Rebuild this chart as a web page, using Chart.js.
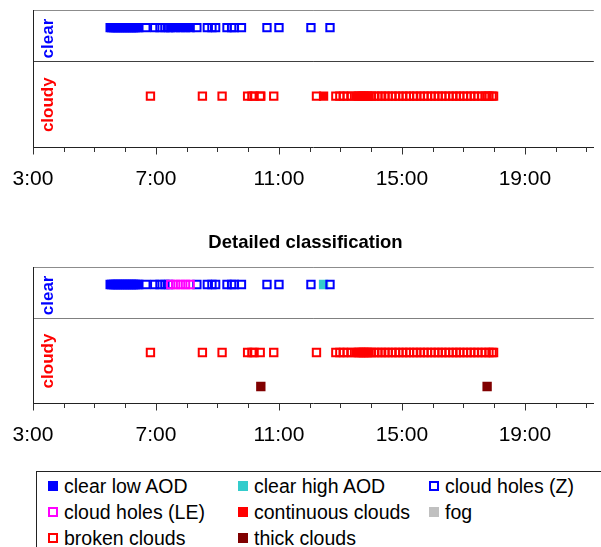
<!DOCTYPE html>
<html><head><meta charset="utf-8">
<script src="https://cdn.jsdelivr.net/npm/chart.js@4.4.1/dist/chart.umd.min.js"></script>
<style>
html,body{margin:0;padding:0;background:#fff;overflow:hidden;width:601px;height:547px;}
canvas{position:absolute;left:0;}
#c1{top:0;}
#c2{top:200px;}
#legend{position:absolute;left:36px;top:471px;width:620px;height:110px;border:1px solid #222;box-sizing:content-box;
 font-family:"Liberation Sans",Arial,sans-serif;font-size:19.5px;color:#000;}
.item{position:absolute;display:flex;align-items:center;white-space:nowrap;height:24px;line-height:24px;}
.sw{width:10px;height:10px;box-sizing:border-box;margin-right:6px;flex:none;}
</style></head><body>
<canvas id="c1" width="601" height="200"></canvas>
<canvas id="c2" width="601" height="255"></canvas>
<div id="legend"></div>
<script>
// ---------- data (hours of day) ----------
const categories = ['clear', 'cloudy'];
const chartTitle = 'Detailed classification';
const tickHours = [3,4,5,6,7,8,9,10,11,12,13,14,15,16,17,18,19,20,21];
const tickLabelHours = [3,7,11,15,19];

const clearLowAOD  = [5.51,5.56,5.62,5.68,5.74,5.80,5.85,5.91,5.97,6.03,6.09,6.14,6.20,6.26,6.32,6.38,6.44];
const clearHighAOD = [12.45];
const cloudHolesZ  = [6.67,6.96,7.13,7.29,7.41,8.33,8.67,8.82,8.94,9.31,9.46,9.55,9.78,10.61,11.0,12.04,12.66];
const cloudHolesLE = [7.48,7.64,7.80,7.96,8.11];
const continuousClouds = [13.52,13.58,13.64,13.70,13.76,13.82,13.87,13.92];
const fog = [];
const brokenClouds = [6.82,8.51,9.15,9.98,10.12,10.19,10.39,10.83,12.22,
  12.85,12.98,13.10,13.22,13.36,
  14.01,14.12,14.22,14.34,14.45,14.55,14.68,14.79,14.90,15.03,15.14,15.25,15.38,15.48,15.60,15.72,
  15.83,15.95,16.07,16.18,16.30,16.41,16.53,16.66,16.77,16.88,17.00,17.12,17.24,17.35,17.47,17.60,
  17.71,17.83,17.93,17.98];
const thickClouds = [10.41,17.77];

// row (category) value on the y scale
const ROW = {clear: 4, cloudy: 2, thick: 1};

const FONT = '"Liberation Sans", Arial, sans-serif';
const BLUE='#0000FF', CYAN='#33CCCC', MAGENTA='#FF00FF', RED='#FF0000', DARKRED='#800000', GRAY='#C0C0C0';

function pts(arr, row){ return arr.map(h => ({x: h, y: row})); }
function ds(label, arr, row, color, filled, i){
  return {label, data: pts(arr,row), pointStyle:'rect', pointRadius:5.2, pointHoverRadius:5.2,
    pointBorderWidth:2, borderColor: color, backgroundColor: filled ? color : 'rgba(0,0,0,0)',
    showLine:false, order:-i, _filled: filled};
}

const deco = {
  id:'deco',
  afterDraw(chart){
    const {ctx, chartArea, scales:{x}} = chart;
    ctx.save();
    ctx.strokeStyle = '#333'; ctx.lineWidth = 1;
    x.ticks.forEach(t => {
      const px = Math.round(x.getPixelForValue(t.value)) + 0.5;
      const len = tickLabelHours.includes(t.value) ? 7 : 4.5;
      ctx.beginPath(); ctx.moveTo(px, chartArea.bottom); ctx.lineTo(px, chartArea.bottom + len); ctx.stroke();
    });
    const y = chart.scales.y;
    ctx.font = 'bold 17px ' + FONT;
    ctx.textAlign = 'center'; ctx.textBaseline = 'middle';
    const spots = [[categories[0], 3.68, BLUE], [categories[1], 1.75, RED]];
    spots.forEach(([txt, v, col]) => {
      ctx.save();
      ctx.translate(chartArea.left + 15, y.getPixelForValue(v));
      ctx.rotate(-Math.PI/2);
      ctx.fillStyle = col;
      ctx.fillText(txt, 0, 0);
      ctx.restore();
    });
    ctx.restore();
  }
};

function makeOptions(opts){
  return {
    responsive:false, animation:false, events:[],
    layout:{padding:opts.padding},
    plugins:{legend:{display:false}, tooltip:{enabled:false}, title: opts.title},
    scales:{
      x:{type:'linear', min:3, max:21.24,
        afterBuildTicks: s => { s.ticks = tickHours.map(v => ({value:v})); },
        afterFit: s => { s.height = opts.xh; },
        grid:{display:true, drawOnChartArea:false, drawTicks:true, tickLength:19,
              color:'rgba(0,0,0,0)', tickColor:'rgba(0,0,0,0)'},
        border:{display:true, color:'#222', width:1},
        ticks:{autoSkip:false, maxRotation:0, minRotation:0, padding:0, color:'#000',
          font:{family:FONT, size:21},
          callback: v => tickLabelHours.includes(v) ? v + ':00' : ''}
      },
      y:{type:'linear', min:0.5, max:4.5,
        afterBuildTicks: s => { s.ticks = [{value:3},{value:4.5}]; },
        afterFit: s => { s.width = opts.yw; },
        ticks:{display:false, padding:0},
        grid:{drawTicks:false, lineWidth:1, color: c => c.tick && c.tick.value === 3 ? opts.midColor : '#8c8c8c'},
        border:{display:true, color:'#222', width:1}
      }
    }
  };
}

// ---------- top chart (simple classification) ----------
const topDatasets = [
  ds('clear', clearLowAOD.concat(cloudHolesLE), ROW.clear, BLUE, true, 0),
  ds('cloud holes', cloudHolesZ, ROW.clear, BLUE, false, 1),
  ds('continuous', continuousClouds.concat(clearHighAOD), ROW.cloudy, RED, true, 2),
  ds('broken', brokenClouds.concat(thickClouds), ROW.cloudy, RED, false, 3)
];
new Chart(document.getElementById('c1'), {
  type:'scatter',
  data:{datasets: topDatasets},
  options: makeOptions({padding:{top:10.5,left:0,right:0,bottom:0}, xh:52.5, yw:33, midColor:'#404040', title:{display:false}}),
  plugins:[deco]
});

// ---------- bottom chart (detailed classification) ----------
const botDatasets = [
  ds('clear low AOD', clearLowAOD, ROW.clear, BLUE, true, 0),
  ds('clear high AOD', clearHighAOD, ROW.clear, CYAN, true, 1),
  ds('cloud holes (Z)', cloudHolesZ, ROW.clear, BLUE, false, 2),
  ds('cloud holes (LE)', cloudHolesLE, ROW.clear, MAGENTA, false, 3),
  ds('continuous clouds', continuousClouds, ROW.cloudy, RED, true, 4),
  ds('fog', fog, ROW.cloudy, GRAY, true, 5),
  ds('broken clouds', brokenClouds, ROW.cloudy, RED, false, 6),
  ds('thick clouds', thickClouds, ROW.thick, DARKRED, true, 7)
];
const chart2 = new Chart(document.getElementById('c2'), {
  type:'scatter',
  data:{datasets: botDatasets},
  options: makeOptions({padding:{top:0,left:10,right:0,bottom:0}, xh:51.5, yw:23, midColor:'#808080',
    title:{display:true, text:chartTitle, color:'#000', font:{family:FONT, size:18.5, weight:'bold'},
      padding:{top:32, bottom:13.3}}}),
  plugins:[deco]
});

// ---------- HTML legend built from the chart datasets ----------
const colX = [11, 201, 392];
const rowY = [1.5, 28, 53.5];
const leg = document.getElementById('legend');
chart2.data.datasets.forEach((d, i) => {
  const it = document.createElement('div');
  it.className = 'item';
  it.style.left = colX[i % 3] + 'px';
  it.style.top = rowY[Math.floor(i / 3)] + 'px';
  const sw = document.createElement('span');
  sw.className = 'sw';
  if (d._filled) { sw.style.background = d.borderColor; }
  else { sw.style.border = '2px solid ' + d.borderColor; sw.style.background = '#fff'; }
  it.appendChild(sw);
  const tx = document.createElement('span');
  tx.textContent = d.label;
  it.appendChild(tx);
  leg.appendChild(it);
});
</script>
</body></html>
